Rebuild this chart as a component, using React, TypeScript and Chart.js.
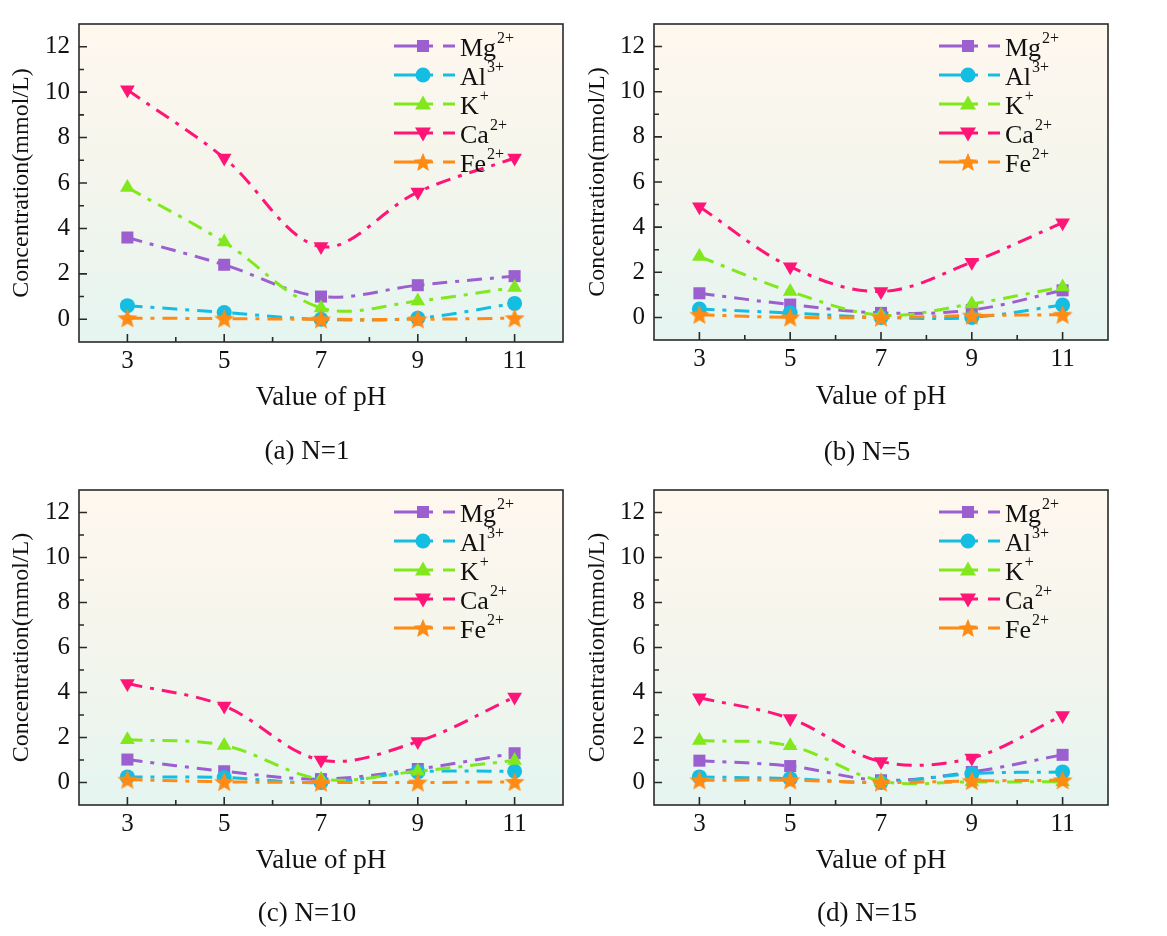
import React, { useEffect, useRef } from "react";
import { Chart, registerables } from "chart.js";

Chart.register(...registerables);

const FONT = '"Liberation Serif", "Times New Roman", serif';
Chart.defaults.font.family = FONT;
Chart.defaults.color = "#111";

const PH = [3, 5, 7, 9, 11];
const X_TICKS = [3, 5, 7, 9, 11];
const Y_TICKS = [0, 2, 4, 6, 8, 10, 12];

const ION_NAMES = ["Mg", "Al", "K", "Ca", "Fe"];
const ION_CHARGES = ["2+", "3+", "+", "2+", "2+"];
const ION_COLORS = ["#9b5fd0", "#14bde2", "#80e81c", "#ff1577", "#ff8a14"];
const ION_MARKERS = ["rect", "circle", "triangle", "triangleDown", "star"];

// N=1
const MG_N1 = [3.6, 2.4, 1.0, 1.5, 1.9];
const AL_N1 = [0.6, 0.3, 0.0, 0.05, 0.7];
const K_N1 = [5.8, 3.4, 0.5, 0.8, 1.4];
const CA_N1 = [10.1, 7.1, 3.2, 5.6, 7.1];
const FE_N1 = [0.05, 0.03, 0.0, 0.0, 0.05];

// N=5
const MG_N5 = [1.07, 0.57, 0.2, 0.33, 1.2];
const AL_N5 = [0.37, 0.2, 0.0, 0.0, 0.55];
const K_N5 = [2.7, 1.15, 0.1, 0.6, 1.35];
const CA_N5 = [4.9, 2.25, 1.15, 2.45, 4.2];
const FE_N5 = [0.12, 0.0, 0.0, 0.08, 0.12];

// N=10
const MG_N10 = [1.02, 0.5, 0.15, 0.6, 1.3];
const AL_N10 = [0.25, 0.22, 0.0, 0.47, 0.5];
const K_N10 = [1.9, 1.65, 0.15, 0.5, 0.98];
const CA_N10 = [4.4, 3.4, 1.0, 1.82, 3.8];
const FE_N10 = [0.13, 0.03, 0.0, 0.0, 0.03];

// N=15
const MG_N15 = [0.97, 0.73, 0.1, 0.47, 1.23];
const AL_N15 = [0.25, 0.17, 0.0, 0.39, 0.47];
const K_N15 = [1.87, 1.63, 0.07, 0.03, 0.03];
const CA_N15 = [3.77, 2.84, 0.93, 1.09, 2.98];
const FE_N15 = [0.1, 0.1, 0.0, 0.07, 0.1];

const CAPTIONS = ["(a) N=1", "(b) N=5", "(c) N=10", "(d) N=15"];
const SERIES = [
  [MG_N1, AL_N1, K_N1, CA_N1, FE_N1],
  [MG_N5, AL_N5, K_N5, CA_N5, FE_N5],
  [MG_N10, AL_N10, K_N10, CA_N10, FE_N10],
  [MG_N15, AL_N15, K_N15, CA_N15, FE_N15],
];

// page positions of each panel (canvas box + plot area)
const LAYOUT = [
  { left: 0, top: 0, w: 583, h: 466, l: 79, t: 17, r: 563, b: 342, yTitleX: 22, xTitleY: 398, capY: 452 },
  { left: 583, top: 0, w: 584, h: 466, l: 654, t: 11, r: 1108, b: 340, yTitleX: 596, xTitleY: 397, capY: 453 },
  { left: 0, top: 466, w: 583, h: 470, l: 79, t: 483, r: 563, b: 805, yTitleX: 22, xTitleY: 861, capY: 914 },
  { left: 583, top: 466, w: 584, h: 470, l: 654, t: 483, r: 1108, b: 805, yTitleX: 596, xTitleY: 861, capY: 914 },
];

const starPath = (ctx: CanvasRenderingContext2D, cx: number, cy: number, R: number, r: number) => {
  ctx.beginPath();
  for (let i = 0; i < 10; i++) {
    const ang = -Math.PI / 2 + (i * Math.PI) / 5;
    const rad = i % 2 === 0 ? R : r;
    const px = cx + Math.cos(ang) * rad;
    const py = cy + Math.sin(ang) * rad;
    if (i === 0) ctx.moveTo(px, py);
    else ctx.lineTo(px, py);
  }
  ctx.closePath();
};

const makeStar = (color: string) => {
  const c = document.createElement("canvas");
  c.width = 22;
  c.height = 22;
  const g = c.getContext("2d")!;
  g.fillStyle = color;
  starPath(g, 11, 11.8, 10.5, 4.6);
  g.fill();
  return c;
};

const drawMarker = (ctx: CanvasRenderingContext2D, kind: string, x: number, y: number, color: string) => {
  ctx.fillStyle = color;
  ctx.beginPath();
  if (kind === "rect") {
    ctx.rect(x - 6, y - 6, 12, 12);
  } else if (kind === "circle") {
    ctx.arc(x, y, 7.5, 0, Math.PI * 2);
  } else if (kind === "triangle") {
    ctx.moveTo(x, y - 8.5);
    ctx.lineTo(x + 8, y + 5.5);
    ctx.lineTo(x - 8, y + 5.5);
    ctx.closePath();
  } else if (kind === "triangleDown") {
    ctx.moveTo(x, y + 8.5);
    ctx.lineTo(x + 8, y - 5.5);
    ctx.lineTo(x - 8, y - 5.5);
    ctx.closePath();
  } else {
    starPath(ctx, x, y + 0.8, 10, 4.4);
  }
  ctx.fill();
};

const framePlugin = {
  id: "frame",
  beforeDatasetsDraw(chart: any) {
    const { ctx, chartArea: a } = chart;
    const g = ctx.createLinearGradient(0, a.top, 0, a.bottom);
    g.addColorStop(0, "#fff8ef");
    g.addColorStop(0.5, "#f4f5ec");
    g.addColorStop(1, "#e5f5f1");
    ctx.save();
    ctx.fillStyle = g;
    ctx.fillRect(a.left, a.top, a.right - a.left, a.bottom - a.top);
    ctx.restore();
  },
  afterDraw(chart: any, _args: any, opts: any) {
    const { ctx, chartArea: a } = chart;
    const xs = chart.scales.x;
    const ys = chart.scales.y;
    ctx.save();
    ctx.strokeStyle = "#2a2a2a";
    ctx.lineWidth = 1.6;
    ctx.beginPath();
    xs.ticks.forEach((t: any) => {
      if (t.value <= xs.min || t.value >= xs.max) return;
      const px = xs.getPixelForValue(t.value);
      const len = X_TICKS.includes(t.value) ? 8 : 5;
      ctx.moveTo(px, a.bottom);
      ctx.lineTo(px, a.bottom - len);
    });
    ys.ticks.forEach((t: any) => {
      if (t.value <= ys.min || t.value >= ys.max) return;
      const py = ys.getPixelForValue(t.value);
      const len = Y_TICKS.includes(t.value) ? 8 : 5;
      ctx.moveTo(a.left, py);
      ctx.lineTo(a.left + len, py);
    });
    ctx.stroke();
    ctx.strokeRect(a.left, a.top, a.right - a.left, a.bottom - a.top);

    // legend
    ION_NAMES.forEach((name, i) => {
      const yy = a.top + 22 + i * 29;
      const r = a.right;
      ctx.strokeStyle = ION_COLORS[i];
      ctx.lineWidth = 3;
      ctx.beginPath();
      ctx.moveTo(r - 169, yy);
      ctx.lineTo(r - 130, yy);
      ctx.moveTo(r - 120, yy);
      ctx.lineTo(r - 108, yy);
      ctx.stroke();
      drawMarker(ctx, ION_MARKERS[i], r - 140, yy, ION_COLORS[i]);
      ctx.fillStyle = "#111";
      ctx.textBaseline = "middle";
      ctx.textAlign = "left";
      ctx.font = `26px ${FONT}`;
      ctx.fillText(name, r - 103, yy + 3);
      const w = ctx.measureText(name).width;
      ctx.font = `16px ${FONT}`;
      ctx.fillText(ION_CHARGES[i], r - 103 + w + 1, yy - 7);
    });

    // caption
    ctx.fillStyle = "#111";
    ctx.font = `27px ${FONT}`;
    ctx.textAlign = "center";
    ctx.textBaseline = "middle";
    ctx.fillText(opts.caption, (a.left + a.right) / 2 - 14, opts.captionY);
    ctx.restore();
  },
};

const Panel: React.FC<{ index: number }> = ({ index }) => {
  const canvasRef = useRef<HTMLCanvasElement>(null);
  const p = LAYOUT[index];

  useEffect(() => {
    if (!canvasRef.current) return;
    const ctx = canvasRef.current.getContext("2d");
    if (!ctx) return;

    const xTitleSize = 27;
    const yTitleSize = 24;
    const star = makeStar(ION_COLORS[4]);

    const datasets = SERIES[index].map((vals, i) => ({
      label: ION_NAMES[i] + ION_CHARGES[i],
      data: PH.map((x, k) => ({ x, y: vals[k] })),
      borderColor: ION_COLORS[i],
      backgroundColor: ION_COLORS[i],
      borderWidth: 3,
      borderDash: [15, 8, 4, 8],
      tension: 0.35,
      pointStyle: ION_MARKERS[i] === "star" ? star : ION_MARKERS[i] === "triangleDown" ? "triangle" : ION_MARKERS[i],
      pointRotation: ION_MARKERS[i] === "triangleDown" ? 180 : 0,
      pointRadius: ION_MARKERS[i] === "circle" ? 7.5 : 8.5,
      pointBorderWidth: 0,
      pointBackgroundColor: ION_COLORS[i],
      pointBorderColor: ION_COLORS[i],
      order: 4 - i,
    }));

    const chart = new Chart(ctx, {
      type: "line",
      data: { datasets: datasets as any },
      plugins: [framePlugin as any],
      options: {
        animation: false,
        responsive: false,
        devicePixelRatio: 1,
        layout: {
          padding: {
            left: 0,
            top: p.t - p.top,
            right: p.left + p.w - p.r,
            bottom: 0,
          },
        },
        plugins: {
          legend: { display: false },
          tooltip: { enabled: false },
          frame: { caption: CAPTIONS[index], captionY: p.capY - p.top },
        } as any,
        scales: {
          x: {
            type: "linear",
            min: 2,
            max: 12,
            grid: { display: false, drawTicks: false },
            border: { display: false },
            ticks: {
              stepSize: 1,
              autoSkip: false,
              maxRotation: 0,
              padding: 4,
              font: { size: 25 },
              color: "#111",
              callback: (v: any) => (X_TICKS.includes(Number(v)) ? String(v) : ""),
            },
            title: {
              display: true,
              text: "Value of pH",
              font: { size: xTitleSize },
              color: "#111",
              padding: { top: 0, bottom: p.top + p.h - p.xTitleY - (xTitleSize * 1.2) / 2 },
            },
            afterFit: (s: any) => {
              s.height = p.top + p.h - p.b;
            },
          },
          y: {
            type: "linear",
            min: -1,
            max: 13,
            grid: { display: false, drawTicks: false },
            border: { display: false },
            ticks: {
              stepSize: 1,
              autoSkip: false,
              padding: 9,
              font: { size: 25 },
              color: "#111",
              callback: (v: any) => (Y_TICKS.includes(Number(v)) ? String(v) : ""),
            },
            title: {
              display: true,
              text: "Concentration(mmol/L)",
              font: { size: yTitleSize },
              color: "#111",
              padding: { top: Math.max(0, p.yTitleX - p.left - (yTitleSize * 1.2) / 2), bottom: 0 },
            },
            afterFit: (s: any) => {
              s.width = p.l - p.left;
            },
          },
        },
      },
    });

    return () => {
      chart.destroy();
    };
  }, [index]);

  return (
    <canvas
      ref={canvasRef}
      width={p.w}
      height={p.h}
      style={{ position: "absolute", left: p.left, top: p.top, width: p.w, height: p.h }}
    />
  );
};

const App: React.FC = () => {
  return (
    <div style={{ position: "absolute", left: 0, top: 0, width: 1167, height: 936, background: "#fff" }}>
      {LAYOUT.map((_, i) => (
        <Panel key={i} index={i} />
      ))}
    </div>
  );
};

export default App;
